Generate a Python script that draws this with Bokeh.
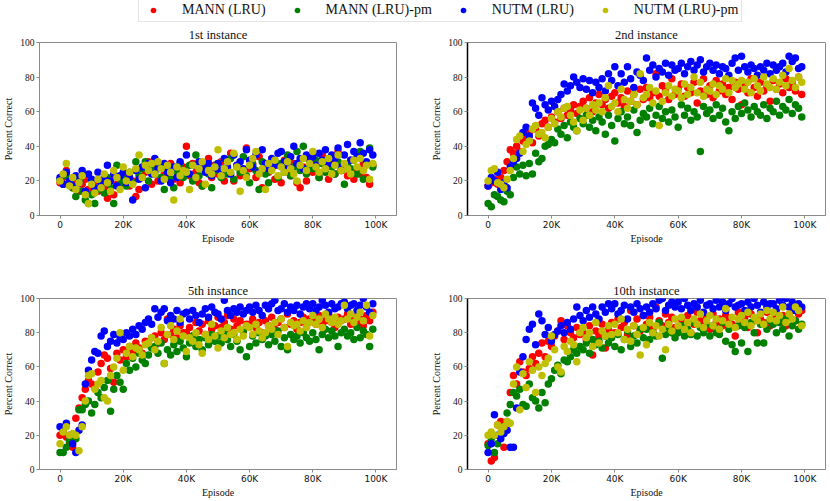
from bokeh.plotting import figure
from bokeh.models import Range1d, FixedTicker, Legend, LegendItem, ColumnDataSource
from bokeh.layouts import column, row
from bokeh.embed import file_html
from bokeh.resources import INLINE

# ---------------- data ----------------
EPISODES = list(range(0, 100000, 1000))
SERIES = ["MANN (LRU)", "MANN (LRU)-pm", "NUTM (LRU)", "NUTM (LRU)-pm"]
COLORS = ["#ff0000", "#008000", "#0000ff", "#bfbf00"]
TITLES = ["1st instance", "2nd instance", "5th instance", "10th instance"]
X_TICKS = [0, 20000, 40000, 60000, 80000, 100000]
X_TICK_LABELS = ["0", "20K", "40K", "60K", "80K", "100K"]
Y_TICKS = [0, 20, 40, 60, 80, 100]

# 1st instance
I1_MANN = [19, 22, 26, 18, 16, 20, 14, 18, 21, 15, 17, 20, 14, 19, 16, 10, 21, 12, 18, 22,
           19, 24, 17, 20, 11, 15, 22, 25, 31, 18, 27, 20, 29, 24, 22, 30, 21, 26, 19, 28,
           40, 23, 30, 25, 19, 17, 26, 33, 22, 29, 24, 31, 20, 27, 36, 20, 29, 23, 25, 39,
           27, 30, 22, 34, 16, 28, 25, 31, 21, 29, 19, 32, 26, 23, 30, 19, 16, 28, 20, 33,
           25, 29, 22, 35, 27, 21, 30, 24, 37, 26, 28, 23, 32, 21, 27, 24, 30, 22, 18, 29]
I1_MANN_PM = [21, 18, 23, 19, 16, 11, 20, 14, 9, 7, 12, 7, 15, 19, 13, 22, 16, 7, 29, 18,
              21, 17, 25, 19, 31, 23, 27, 31, 20, 26, 24, 28, 22, 15, 27, 21, 16, 25, 30, 22,
              25, 29, 20, 35, 23, 17, 27, 24, 16, 26, 30, 22, 27, 24, 33, 21, 28, 25, 34, 23,
              19, 29, 26, 15, 31, 24, 19, 27, 32, 22, 30, 25, 35, 23, 28, 37, 26, 40, 24, 29,
              27, 32, 22, 30, 25, 33, 28, 24, 31, 26, 18, 29, 27, 32, 24, 37, 21, 30, 39, 28]
I1_NUTM = [22, 18, 25, 20, 17, 23, 19, 26, 14, 24, 21, 16, 25, 18, 22, 29, 20, 24, 17, 23,
           25, 19, 22, 9, 26, 21, 28, 16, 30, 24, 33, 27, 20, 30, 25, 19, 28, 22, 31, 26,
           35, 24, 29, 22, 31, 28, 25, 30, 23, 27, 30, 26, 33, 28, 24, 35, 29, 31, 27, 38,
           32, 28, 35, 25, 38, 30, 27, 33, 29, 36, 37, 31, 28, 34, 40, 30, 33, 27, 35, 31,
           34, 29, 36, 32, 38, 30, 35, 33, 39, 28, 35, 41, 32, 37, 34, 42, 36, 31, 38, 35]
I1_NUTM_PM = [20, 24, 30, 17, 22, 15, 19, 23, 12, 7, 18, 13, 21, 16, 24, 19, 14, 26, 22, 15,
              28, 20, 25, 18, 27, 35, 22, 29, 26, 30, 24, 31, 27, 21, 29, 25, 9, 28, 23, 26,
              25, 15, 29, 22, 27, 31, 18, 26, 24, 28, 38, 23, 27, 31, 25, 36, 28, 14, 26, 22,
              29, 33, 37, 24, 27, 15, 30, 26, 32, 23, 28, 25, 31, 27, 24, 20, 29, 33, 26, 30,
              37, 28, 25, 31, 27, 33, 24, 29, 35, 26, 30, 27, 24, 32, 28, 33, 26, 29, 21, 30]

# 2nd instance
I2_MANN = [17, 19, 21, 18, 22, 26, 31, 38, 36, 40, 37, 43, 45, 48, 42, 50, 46, 53, 55, 51,
           57, 54, 60, 56, 62, 58, 61, 64, 59, 63, 66, 62, 68, 60, 65, 70, 64, 67, 62, 69,
           71, 65, 68, 63, 72, 66, 70, 64, 73, 67, 74, 68, 71, 82, 69, 75, 72, 67, 79, 70,
           73, 76, 69, 74, 71, 77, 65, 72, 79, 70, 75, 68, 78, 72, 76, 70, 74, 67, 77, 73,
           64, 76, 71, 79, 74, 69, 77, 72, 75, 66, 78, 73, 76, 71, 79, 74, 77, 72, 80, 70]
I2_MANN_PM = [7, 5, 12, 11, 9, 8, 14, 12, 22, 28, 24, 29, 23, 30, 24, 36, 31, 33, 40, 41,
              44, 42, 50, 47, 52, 45, 54, 51, 49, 56, 53, 58, 51, 55, 49, 57, 54, 47, 58, 52,
              43, 56, 60, 53, 57, 52, 61, 48, 55, 59, 57, 62, 53, 58, 63, 56, 60, 54, 61, 57,
              51, 64, 58, 62, 55, 60, 57, 37, 63, 59, 61, 56, 64, 58, 62, 54, 49, 60, 56, 63,
              59, 65, 61, 57, 63, 60, 58, 64, 56, 62, 60, 66, 58, 63, 61, 67, 59, 64, 62, 57]
I2_NUTM = [17, 22, 20, 25, 15, 19, 16, 28, 31, 33, 36, 48, 51, 46, 65, 62, 58, 68, 64, 61,
           66, 63, 67, 70, 76, 72, 75, 80, 77, 74, 79, 73, 78, 71, 77, 74, 79, 72, 82, 78,
           86, 75, 82, 77, 86, 79, 74, 83, 81, 78, 91, 84, 87, 80, 85, 83, 88, 81, 87, 84,
           85, 88, 82, 86, 89, 84, 87, 90, 83, 86, 88, 84, 87, 82, 86, 85, 81, 88, 91, 84,
           92, 86, 83, 87, 85, 81, 86, 84, 88, 82, 87, 84, 86, 88, 83, 92, 89, 91, 85, 86]
I2_NUTM_PM = [20, 26, 27, 19, 18, 16, 21, 26, 33, 44, 46, 37, 41, 43, 50, 52, 47, 48, 45, 51,
              56, 53, 60, 57, 62, 63, 58, 54, 49, 61, 55, 62, 58, 64, 61, 65, 60, 68, 75, 63,
              65, 60, 73, 67, 62, 66, 70, 64, 82, 68, 70, 74, 65, 72, 52, 66, 71, 75, 69, 73,
              72, 68, 76, 70, 74, 80, 71, 77, 69, 73, 72, 76, 70, 75, 73, 79, 71, 78, 74, 76,
              78, 73, 77, 71, 79, 75, 72, 80, 76, 74, 79, 73, 77, 81, 75, 85, 78, 74, 80, 77]

# 5th instance
I5_MANN = [20, 22, 19, 16, 13, 30, 36, 42, 47, 52, 50, 48, 57, 62, 67, 65, 59, 51, 68, 64,
           70, 66, 72, 69, 74, 71, 68, 75, 73, 77, 78, 74, 80, 76, 88, 79, 82, 77, 84, 80,
           80, 83, 78, 86, 81, 85, 79, 87, 82, 84, 89, 83, 86, 90, 82, 88, 84, 87, 81, 85,
           85, 88, 83, 86, 80, 87, 84, 89, 82, 86, 88, 83, 91, 85, 87, 82, 86, 89, 84, 88,
           88, 85, 90, 84, 87, 91, 86, 83, 89, 87, 88, 91, 85, 89, 86, 88, 84, 90, 87, 92]
I5_MANN_PM = [10, 10, 13, 17, 20, 18, 35, 35, 38, 40, 33, 38, 45, 42, 48, 52, 34, 47, 55, 51,
              47, 62, 58, 65, 60, 68, 64, 62, 67, 71, 72, 68, 74, 62, 70, 67, 73, 69, 75, 71,
              66, 74, 78, 72, 76, 70, 77, 73, 79, 75, 78, 74, 80, 76, 72, 79, 75, 70, 81, 66,
              72, 78, 74, 80, 76, 78, 73, 79, 75, 81, 72, 77, 70, 79, 76, 78, 74, 80, 77, 75,
              80, 76, 70, 79, 82, 77, 81, 78, 72, 80, 82, 78, 80, 76, 83, 77, 81, 79, 72, 82]
I5_NUTM = [25, 24, 27, 20, 15, 10, 23, 26, 50, 58, 64, 69, 68, 78, 81, 72, 75, 79, 74, 77,
           76, 80, 78, 82, 79, 84, 82, 86, 88, 85, 94, 89, 92, 94, 87, 90, 88, 93, 86, 91,
           92, 88, 93, 90, 86, 91, 94, 89, 95, 92, 91, 88, 99, 93, 90, 94, 92, 95, 91, 93,
           95, 92, 96, 93, 90, 96, 94, 97, 99, 93, 94, 97, 92, 95, 93, 96, 91, 95, 97, 94,
           97, 93, 95, 99, 96, 92, 97, 94, 95, 97, 98, 94, 96, 97, 93, 96, 100, 95, 92, 97]
I5_NUTM_PM = [15, 22, 25, 20, 21, 20, 11, 25, 40, 55, 56, 47, 50, 52, 42, 40, 55, 60, 65, 80,
              58, 68, 72, 66, 71, 70, 67, 73, 74, 77, 70, 75, 83, 62, 79, 84, 76, 81, 88, 78,
              69, 77, 75, 80, 73, 68, 79, 76, 85, 78, 71, 81, 77, 83, 79, 80, 76, 82, 78, 84,
              83, 79, 85, 81, 77, 80, 84, 82, 86, 79, 88, 83, 72, 86, 84, 85, 81, 87, 83, 86,
              90, 85, 88, 83, 91, 88, 86, 89, 85, 87, 96, 88, 91, 86, 89, 92, 87, 96, 78, 90]

# 10th instance
I10_MANN = [15, 5, 7, 26, 28, 13, 28, 45, 55, 50, 63, 57, 55, 59, 66, 62, 68, 74, 66, 75,
            72, 78, 81, 87, 76, 84, 80, 77, 83, 79, 80, 76, 84, 67, 81, 78, 85, 71, 82, 86,
            80, 88, 83, 86, 79, 93, 84, 88, 81, 90, 85, 89, 82, 95, 87, 84, 91, 86, 89, 83,
            83, 88, 85, 90, 80, 85, 92, 87, 84, 89, 82, 91, 86, 88, 84, 90, 87, 85, 78, 92,
            85, 89, 83, 91, 87, 80, 88, 86, 92, 84, 88, 92, 86, 90, 84, 90, 93, 87, 91, 93]
I10_MANN_PM = [14, 18, 10, 15, 20, 25, 33, 38, 45, 43, 47, 38, 37, 50, 42, 40, 36, 45, 39, 50,
               53, 58, 61, 56, 64, 63, 66, 70, 68, 72, 70, 74, 68, 76, 73, 75, 71, 78, 74, 77,
               72, 79, 70, 76, 81, 72, 78, 74, 82, 77, 82, 76, 80, 78, 86, 65, 79, 83, 80, 77,
               80, 84, 78, 82, 79, 86, 78, 83, 80, 85, 78, 84, 80, 79, 86, 75, 82, 73, 69, 84,
               74, 83, 69, 86, 80, 74, 85, 74, 82, 87, 85, 80, 86, 82, 88, 78, 84, 87, 82, 85]
I10_NUTM = [10, 15, 32, 20, 18, 21, 23, 13, 13, 36, 57, 66, 76, 82, 85, 73, 91, 87, 79, 83,
            75, 79, 81, 84, 80, 86, 82, 88, 95, 90, 87, 93, 89, 95, 91, 88, 95, 92, 97, 94,
            97, 91, 93, 96, 88, 95, 92, 97, 94, 90, 95, 92, 97, 94, 99, 100, 93, 96, 98, 95,
            98, 94, 100, 96, 93, 97, 95, 99, 92, 96, 97, 94, 99, 95, 98, 93, 97, 100, 95, 96,
            97, 93, 98, 95, 100, 96, 92, 98, 95, 97, 97, 94, 99, 96, 100, 95, 98, 93, 97, 95]
I10_NUTM_PM = [20, 22, 20, 26, 22, 25, 28, 27, 50, 60, 35, 56, 48, 63, 58, 45, 60, 55, 62, 65,
               78, 70, 60, 57, 72, 69, 75, 73, 63, 80, 83, 77, 80, 72, 86, 74, 81, 78, 84, 79,
               85, 80, 88, 76, 82, 75, 84, 79, 67, 83, 73, 86, 80, 84, 78, 82, 70, 85, 81, 88,
               84, 89, 82, 86, 80, 88, 85, 91, 83, 87, 90, 84, 88, 82, 87, 94, 85, 89, 83, 88,
               90, 86, 92, 84, 89, 87, 91, 85, 93, 88, 92, 87, 90, 95, 86, 91, 88, 95, 93, 84]

PANELS = [
    [I1_MANN, I1_MANN_PM, I1_NUTM, I1_NUTM_PM],
    [I2_MANN, I2_MANN_PM, I2_NUTM, I2_NUTM_PM],
    [I5_MANN, I5_MANN_PM, I5_NUTM, I5_NUTM_PM],
    [I10_MANN, I10_MANN_PM, I10_NUTM, I10_NUTM_PM],
]

SERIF = "Liberation Serif"
SANS = "DejaVu Sans"


def make_panel(idx, top_row, left_col):
    w = 415
    h = 226 if top_row else 250
    p = figure(width=w, height=h, toolbar_location=None, output_backend="svg",
               x_range=Range1d(-6500, 106500), y_range=Range1d(0, 100),
               min_border_left=33 if left_col else 52,
               min_border_right=19 if left_col else 5,
               min_border_top=18 if top_row else 48,
               min_border_bottom=35 if top_row else 28,
               title=TITLES[idx])
    p.title.text_font = SERIF
    p.title.text_font_size = "12.5px"
    p.title.text_font_style = "normal"
    p.title.align = "center"
    p.title.text_color = "#111111"
    p.title.standoff = 2
    p.grid.visible = False
    p.outline_line_color = "#8a8a8a"
    p.outline_line_width = 1
    for vals, col in zip(PANELS[idx], COLORS):
        src = ColumnDataSource(dict(x=EPISODES, y=vals))
        p.scatter("x", "y", source=src, size=7.5, fill_color=col, line_color=None)

    p.xaxis.ticker = FixedTicker(ticks=X_TICKS)
    p.xaxis.major_label_overrides = {t: l for t, l in zip(X_TICKS, X_TICK_LABELS)}
    p.yaxis.ticker = FixedTicker(ticks=Y_TICKS)
    for ax in (p.xaxis[0], p.yaxis[0]):
        ax.axis_line_color = "#8a8a8a"
        ax.major_tick_line_color = "#8a8a8a"
        ax.major_tick_out = 3
        ax.major_tick_in = 0
        ax.minor_tick_line_color = None
        ax.major_label_standoff = 1
        ax.axis_label_standoff = 0
        ax.axis_label_text_font = SERIF
        ax.axis_label_text_font_size = "10px"
        ax.axis_label_text_font_style = "normal"
        ax.axis_label_text_color = "#111111"
        ax.major_label_text_color = "#111111"
    p.xaxis.major_label_text_font = SANS
    p.xaxis.major_label_text_font_size = "9px"
    p.yaxis.major_label_text_font = SERIF
    p.yaxis.major_label_text_font_size = "9.5px"
    p.yaxis.major_label_standoff = 2
    p.yaxis.axis_label_standoff = 3
    p.xaxis.axis_label = "Episode"
    p.yaxis.axis_label = "Percent Correct"
    if not left_col:
        p.yaxis.axis_line_color = "#000000"
        p.yaxis.axis_line_width = 1.5
    return p


# legend strip
lg = figure(width=830, height=24, toolbar_location=None, output_backend="svg",
            x_range=Range1d(0, 1), y_range=Range1d(0, 1),
            min_border_left=0, min_border_right=0, min_border_top=0, min_border_bottom=0)
lg.axis.visible = False
lg.grid.visible = False
lg.outline_line_color = None
items = []
for name, col in zip(SERIES, COLORS):
    r = lg.scatter(x=[-5], y=[-5], size=9, fill_color=col, line_color=None)
    items.append(LegendItem(label=name, renderers=[r]))
legend = Legend(items=items, orientation="horizontal", location=(138, 2),
                label_text_font=SERIF, label_text_font_size="14px",
                label_text_color="#111111",
                glyph_width=22, glyph_height=14, label_height=14,
                label_standoff=18, spacing=20, padding=3, margin=0,
                border_line_color="#cccccc", border_line_width=1,
                background_fill_color="white", background_fill_alpha=1)
lg.add_layout(legend)

p1 = make_panel(0, True, True)
p2 = make_panel(1, True, False)
p3 = make_panel(2, False, True)
p4 = make_panel(3, False, False)

layout = column(lg, row(p1, p2), row(p3, p4))
open("out.html", "w").write(file_html(layout, INLINE))
